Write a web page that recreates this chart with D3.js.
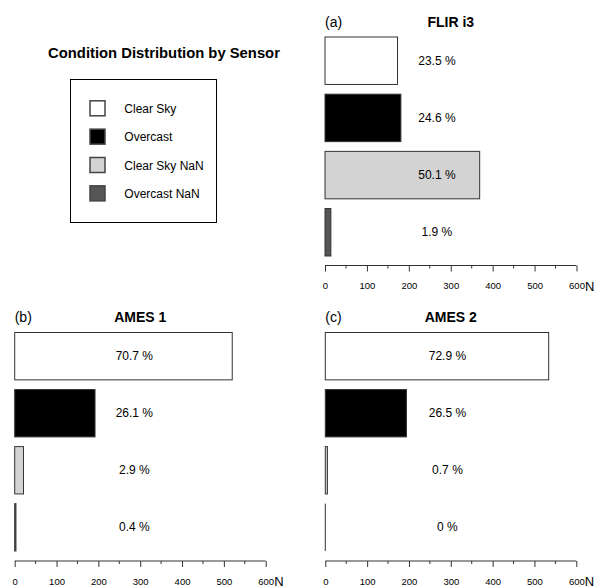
<!DOCTYPE html>
<html>
<head>
<meta charset="utf-8">
<script src="https://cdn.jsdelivr.net/npm/d3@7"></script>
<style>
  body { margin: 0; background: #fff; }
  text { font-family: "Liberation Sans", Arial, sans-serif; fill: #000; }
</style>
</head>
<body>
<div id="chart"></div>
<script>
// Datos del gráfico
const conditions = ["Clear Sky", "Overcast", "Clear Sky NaN", "Overcast NaN"];
const conditionColors = ["#ffffff", "#000000", "#d3d3d3", "#555555"];
const sensors = ["FLIR i3", "AMES 1", "AMES 2"];
const panelTags = ["(a)", "(b)", "(c)"];
const flirCounts = [173, 181, 369, 14];
const ames1Counts = [520, 192, 21, 3];
const ames2Counts = [534, 194, 5, 0];
const xTicks = [0, 100, 200, 300, 400, 500, 600];
const xMinorTicks = [50, 150, 250, 350, 450, 550];

const W = 597, H = 588;
const svg = d3.select("#chart").append("svg")
    .attr("width", W)
    .attr("height", H);

// Disposición de los tres paneles
const panels = [
    { counts: flirCounts,  x0: 325,  x1: 576.5, top: 37,    bottom: 256, axisY: 265.5, titleY: 27,  labelAt: 267 },
    { counts: ames1Counts, x0: 14.7, x1: 265.7, top: 332.5, bottom: 551, axisY: 561,   titleY: 322, labelAt: 286 },
    { counts: ames2Counts, x0: 325.3, x1: 576.3, top: 332.5, bottom: 551, axisY: 561,  titleY: 322, labelAt: 292 }
];

const color = d3.scaleOrdinal(conditions, conditionColors);

panels.forEach((p, i) => {
    const g = svg.append("g");
    const x = d3.scaleLinear().domain([0, 600]).range([p.x0, p.x1]);
    const y = d3.scaleBand().domain(conditions).range([p.top, p.bottom])
        .paddingInner(0.17).paddingOuter(0);
    const total = d3.sum(p.counts);
    const rows = conditions.map((c, k) => ({ cond: c, n: p.counts[k] }));

    // barras
    g.selectAll("rect.bar")
        .data(rows.filter(d => d.n > 0))
        .enter().append("rect")
        .attr("class", "bar")
        .attr("x", x(0))
        .attr("y", d => y(d.cond))
        .attr("width", d => x(d.n) - x(0))
        .attr("height", y.bandwidth())
        .attr("fill", d => color(d.cond))
        .attr("stroke", "#333")
        .attr("stroke-width", 1);

    // barras vacías: solo una línea
    g.selectAll("line.zero")
        .data(rows.filter(d => d.n === 0))
        .enter().append("line")
        .attr("x1", x(0)).attr("x2", x(0))
        .attr("y1", d => y(d.cond))
        .attr("y2", d => y(d.cond) + y.bandwidth())
        .attr("stroke", "#333");

    // porcentajes
    g.selectAll("text.pct")
        .data(rows)
        .enter().append("text")
        .attr("x", x(p.labelAt))
        .attr("y", d => y(d.cond) + y.bandwidth() / 2 + 4)
        .attr("text-anchor", "middle")
        .style("font-size", "12px")
        .text(d => {
            const v = Math.round(d.n / total * 1000) / 10;
            return v + " %";
        });

    // eje X
    const axis = d3.axisBottom(x).tickValues(xTicks).tickSize(6).tickPadding(11);
    const ax = g.append("g")
        .attr("transform", `translate(0,${p.axisY})`)
        .call(axis);
    ax.select(".domain").attr("stroke", "#333").attr("d", `M${x(0)},0H${x(600)}`);
    ax.selectAll(".tick line").attr("stroke", "#333");
    ax.selectAll(".tick text")
        .style("font-family", "'Liberation Sans', Arial, sans-serif")
        .style("font-size", "9.5px")
        .attr("fill", "#000");
    g.append("g")
        .attr("transform", `translate(0,${p.axisY})`)
        .selectAll("line")
        .data(xMinorTicks)
        .enter().append("line")
        .attr("x1", d => x(d)).attr("x2", d => x(d))
        .attr("y1", 0).attr("y2", 3)
        .attr("stroke", "#333");
    g.append("text")
        .attr("x", x(600) + 8.5)
        .attr("y", p.axisY + 25)
        .style("font-size", "13px")
        .text("N");

    // títulos
    g.append("text")
        .attr("x", x(0))
        .attr("y", p.titleY)
        .style("font-size", "14px")
        .text(panelTags[i]);
    g.append("text")
        .attr("x", (p.x0 + p.x1) / 2)
        .attr("y", p.titleY)
        .attr("text-anchor", "middle")
        .style("font-size", "14px")
        .style("font-weight", "bold")
        .text(sensors[i]);
});

// Título general y leyenda
svg.append("text")
    .attr("x", 164)
    .attr("y", 58)
    .attr("text-anchor", "middle")
    .style("font-size", "14.8px")
    .style("font-weight", "bold")
    .text("Condition Distribution by Sensor");

const legend = svg.append("g");
legend.append("rect")
    .attr("x", 70.5).attr("y", 79.5)
    .attr("width", 146).attr("height", 143)
    .attr("fill", "none")
    .attr("stroke", "#000");

const item = legend.selectAll("g.item")
    .data(conditions)
    .enter().append("g")
    .attr("class", "item")
    .attr("transform", (d, i) => `translate(0,${108.3 + i * 28.35})`);
item.append("rect")
    .attr("x", 90).attr("y", -7.5)
    .attr("width", 15).attr("height", 15)
    .attr("fill", d => color(d))
    .attr("stroke", "#444")
    .attr("stroke-width", 1.5);
item.append("text")
    .attr("x", 124.3)
    .attr("y", 4.5)
    .style("font-size", "12px")
    .text(d => d);
</script>
</body>
</html>
